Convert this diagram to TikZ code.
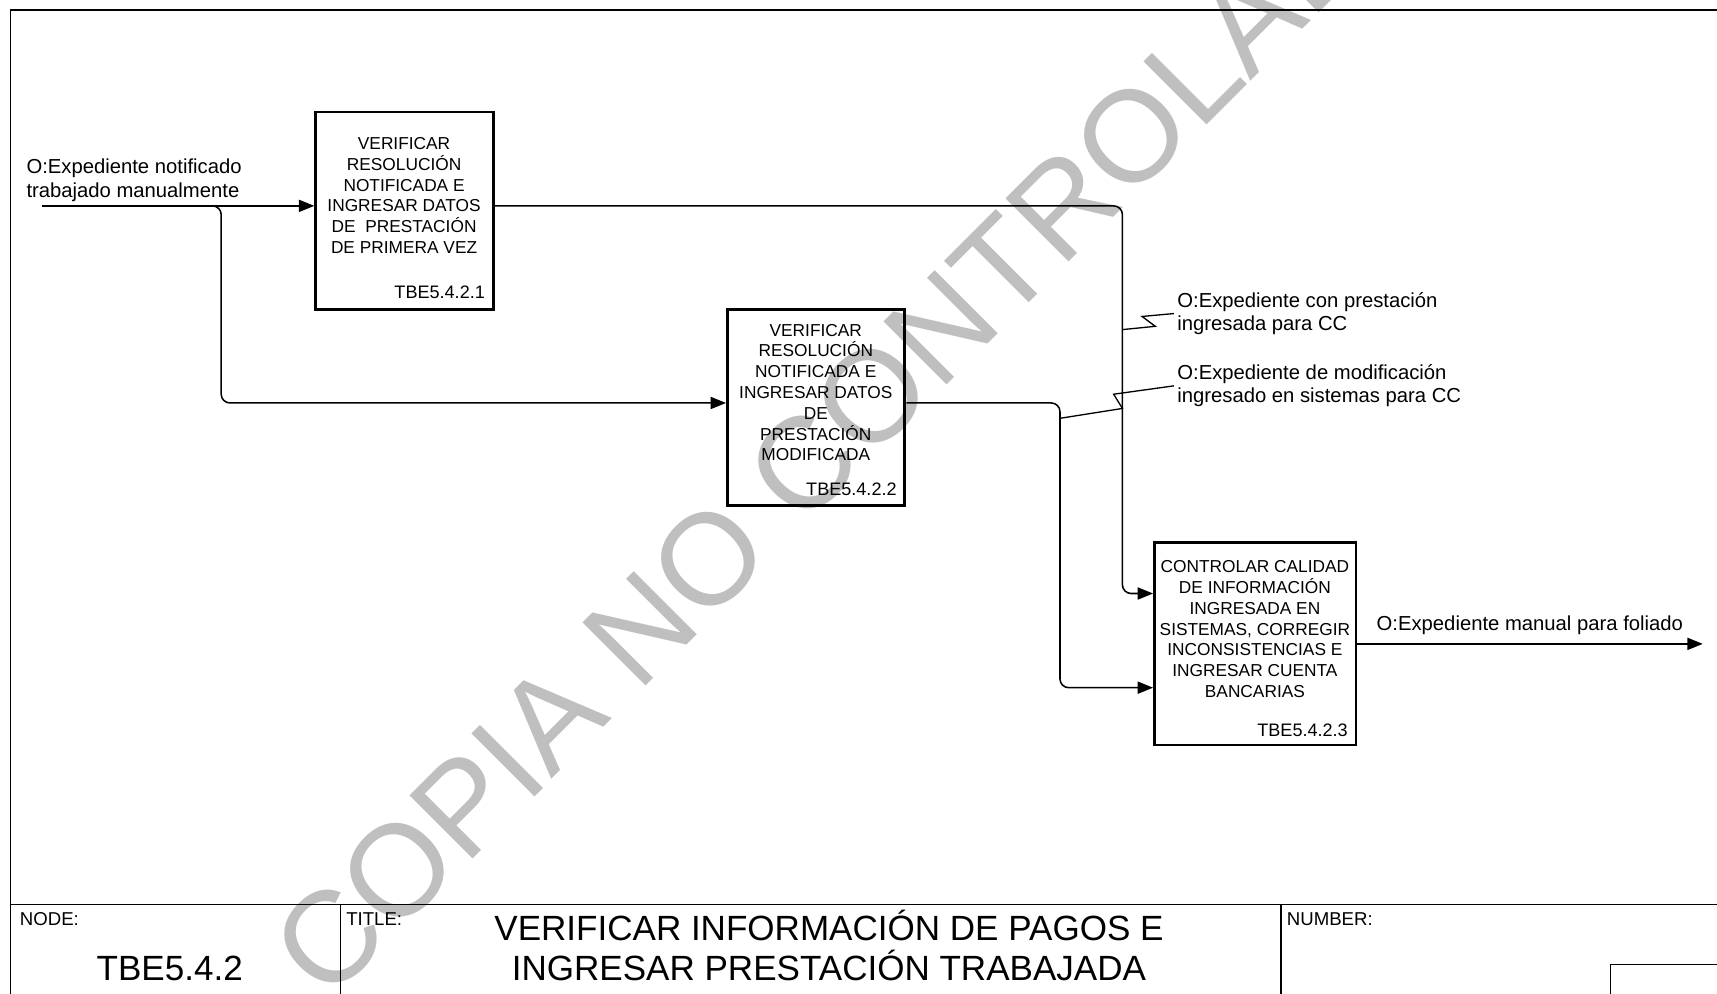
\documentclass[tikz,border=0pt]{standalone}
\usepackage{fontspec}
\setmainfont{Liberation Sans}
\usetikzlibrary{arrows.meta}
\tikzset{
  procbox/.style={draw, line width=2.6pt, inner sep=0pt, anchor=north west},
  proctext/.style={font=\fontsize{15.8}{19}\selectfont, align=center, inner sep=0pt},
  procid/.style={font=\fontsize{16.5}{19}\selectfont, inner sep=0pt, anchor=east},
  lbl/.style={font=\fontsize{18.5}{21.5}\selectfont, align=left, inner sep=0pt, anchor=base west},
  flow/.style={line width=1.4pt, rounded corners=8pt},
  tip/.style={-{Triangle[length=14pt,width=11pt]}},
  framel/.style={line width=1.6pt},
  squig/.style={line width=1.2pt},
  wmark/.style={font=\fontsize{118.5}{118.5}\selectfont, text=black!25, inner sep=0pt, anchor=base west},
  smalllbl/.style={font=\fontsize{17}{20}\selectfont, inner sep=0pt, anchor=base west},
  biglbl/.style={font=\fontsize{32}{36}\selectfont, inner sep=0pt, anchor=base, align=center}
}
\begin{document}
\begin{tikzpicture}[x=1pt,y=-1pt]
\useasboundingbox (0,0) rectangle (1568,907);
\clip (0,0) rectangle (1568,907);
\fill[white] (0,0) rectangle (1568,907);
% watermark
\node[wmark, rotate=45] (wm) at (299,917) {COPIA NO CONTROLADA};
% frame
\coordinate (ftl) at (9.5,9);
\coordinate (ftr) at (1575,9);
\coordinate (fbl) at (9.5,915);
\draw[framel] (fbl) -- (ftl) -- (ftr);
\coordinate (tbl) at (9.5,826);
\coordinate (tbr) at (1575,826);
\draw[framel] (tbl) -- (tbr);
\coordinate (d1t) at (311,826);
\coordinate (d1b) at (311,915);
\coordinate (d2t) at (1170,826);
\coordinate (d2b) at (1170,915);
\draw[framel] (d1t) -- (d1b);
\draw[framel] (d2t) -- (d2b);
\node[draw, line width=1pt, anchor=north west, minimum width=140pt, minimum height=60pt, inner sep=0pt] (nbox) at (1470,880) {};
% title block texts
\node[smalllbl] (nodel) at (18,845) {NODE:};
\node[smalllbl] (titlel) at (316,845) {TITLE:};
\node[smalllbl] (numl) at (1175,845) {NUMBER:};
\node[biglbl] (nodeno) at (155,895) {TBE5.4.2};
\node[biglbl] (title) at (757,895) {VERIFICAR INFORMACIÓN DE PAGOS E\\INGRESAR PRESTACIÓN TRABAJADA};
% boxes
\node[procbox, minimum width=162pt, minimum height=180pt] (b1) at (287,101) {};
\node[proctext] (b1t) at (369,178.5) {VERIFICAR\\RESOLUCIÓN\\NOTIFICADA E\\INGRESAR DATOS\\DE\ \ PRESTACIÓN\\DE PRIMERA VEZ};
\node[procid] (b1id) at (443,267) {TBE5.4.2.1};
\node[procbox, minimum width=162pt, minimum height=179pt] (b2) at (663,281) {};
\node[proctext] (b2t) at (745,358.5) {VERIFICAR\\RESOLUCIÓN\\NOTIFICADA E\\INGRESAR DATOS\\DE\\PRESTACIÓN\\MODIFICADA};
\node[procid] (b2id) at (819,447) {TBE5.4.2.2};
\node[procbox, minimum width=184pt, minimum height=185pt] (b3) at (1053,494) {};
\node[proctext] (b3t) at (1146,574.5) {CONTROLAR CALIDAD\\DE INFORMACIÓN\\INGRESADA EN\\SISTEMAS, CORREGIR\\INCONSISTENCIAS E\\INGRESAR CUENTA\\BANCARIAS};
\node[procid] (b3id) at (1231,667) {TBE5.4.2.3};
% labels
\node[lbl] (lin) at (24,180) {O:Expediente notificado\\trabajado manualmente};
\node[lbl] (l1) at (1075,302) {O:Expediente con prestación\\ingresada para CC};
\node[lbl] (l2) at (1075,368) {O:Expediente de modificación\\ingresado en sistemas para CC};
\node[lbl] (lout) at (1257,576) {O:Expediente manual para foliado};
% connectors
\coordinate (in1) at (38,188);
\draw[flow,tip] (in1) -- (in1 -| b1.west);
\coordinate (j0) at (190,188);
\coordinate (j1) at (202,368);
\draw[flow,tip] (j0) -| (j1) -- (j1 -| b2.west);
\coordinate (c1) at (1025,542);
\draw[flow,tip] (in1 -| b1.east) -| (c1) -- (c1 -| b3.west);
\coordinate (c2) at (968,628);
\draw[flow,tip] (j1 -| b2.east) -| (c2) -- (c2 -| b3.west);
\coordinate (out) at (1555,588);
\draw[flow,tip] (out -| b3.east) -- (out);
% squiggles
\coordinate (s1) at (1025,301);
\draw[squig] (s1) -- ++(30,-3) -- ++(-12,-9) -- ([xshift=-3pt]l1.west);
\coordinate (s2) at (968,382);
\draw[squig] (s2) -- ++(57,-9) -- ++(-8,-13) -- ([xshift=-3pt]l2.west);
\end{tikzpicture}
\end{document}
